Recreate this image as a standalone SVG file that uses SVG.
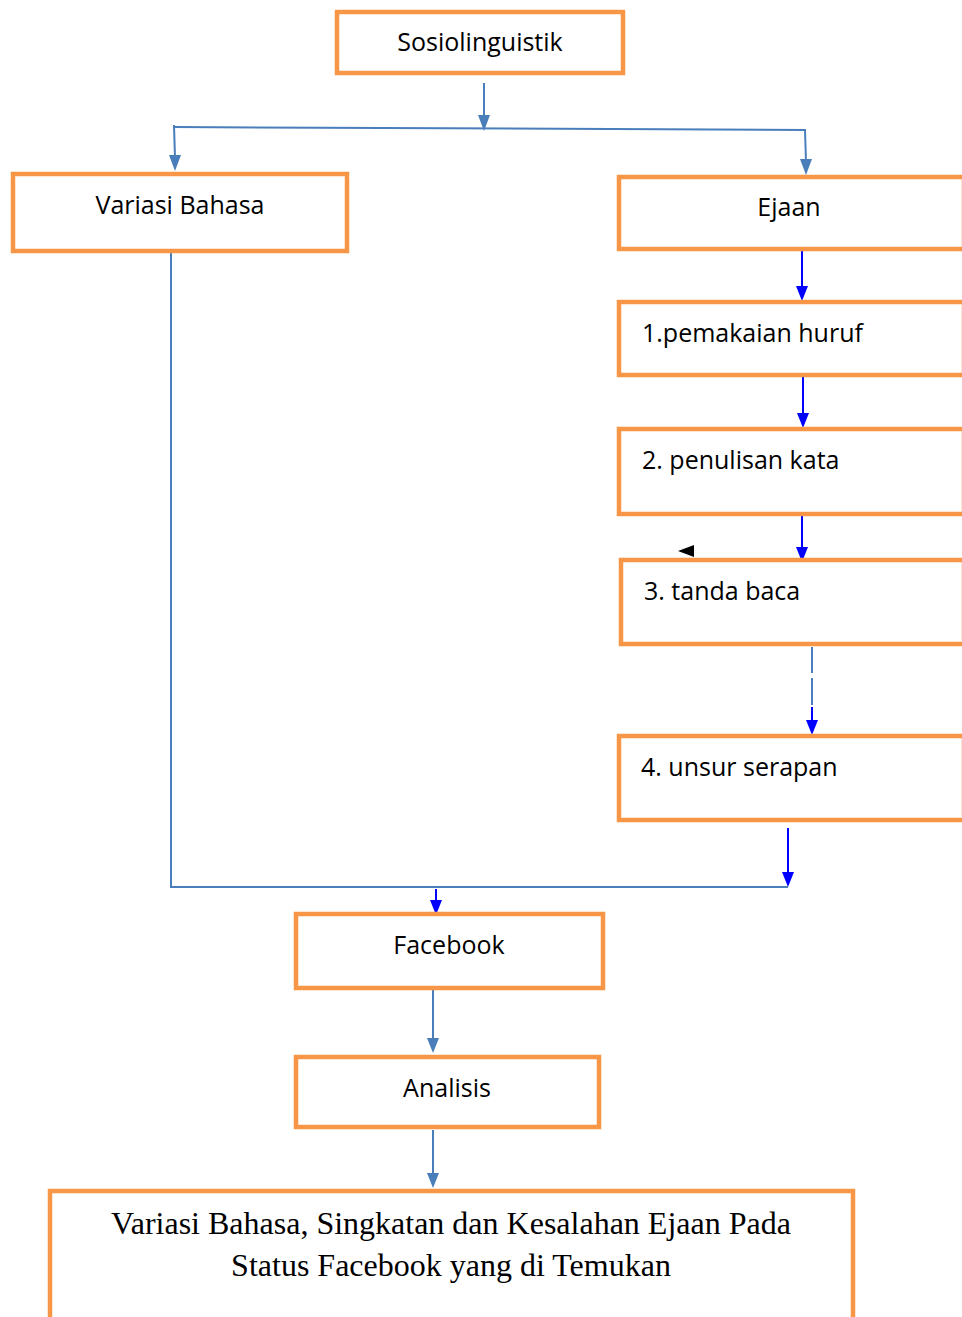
<svg xmlns="http://www.w3.org/2000/svg" width="962" height="1317" viewBox="0 0 962 1317">
<style>
.box{fill:#fff;stroke:#F79646;stroke-width:4.5}
.t{font-family:"Open Sans",Lato,sans-serif;font-size:25px;fill:#000}
.tr{font-family:"Liberation Serif",serif;font-size:32px;fill:#000}
.sb{stroke:#4A7EBB;stroke-width:2;fill:none}
.bl{stroke:#0000FF;stroke-width:2;fill:none}
</style>
<rect width="962" height="1317" fill="#fff"/>
<g id="connectors">
<path class="sb" d="M484,83 V120"/>
<path d="M478,115 L490,115 L484,131 Z" fill="#4A7EBB"/>
<path class="sb" d="M174,127 L806,130"/>
<path class="sb" d="M174,125 L175,158"/>
<path d="M169,155 L181,155 L175,171 Z" fill="#4A7EBB"/>
<path class="sb" d="M805,130 L806,162"/>
<path d="M800,159 L812,159 L806,175 Z" fill="#4A7EBB"/>
<path class="bl" d="M802,243 V290"/>
<path d="M796,286 L808,286 L802,301 Z" fill="#0000FF"/>
<path class="bl" d="M803,370 V418"/>
<path d="M797,413 L809,413 L803,428 Z" fill="#0000FF"/>
<path class="bl" d="M802,509 V552"/>
<path d="M796,547 L808,547 L802,562 Z" fill="#0000FF"/>
<path d="M694,545 L694,557 L678,551 Z" fill="#000"/>
<path class="sb" d="M812,647 V673 M812,678 V705"/>
<path class="bl" d="M812,707 V725"/>
<path d="M806,720 L818,720 L812,735 Z" fill="#0000FF"/>
<path class="bl" d="M788,828 V876"/>
<path d="M782,872 L794,872 L788,887 Z" fill="#0000FF"/>
<path class="sb" d="M171,251 V888"/>
<path class="sb" d="M172,887 H788"/>
<path class="bl" d="M436,889 V904"/>
<path d="M430,900 L442,900 L436,915 Z" fill="#0000FF"/>
<path class="sb" d="M433,990 V1043"/>
<path d="M427,1038 L439,1038 L433,1053 Z" fill="#4A7EBB"/>
<path class="sb" d="M433,1130 V1178"/>
<path d="M427,1173 L439,1173 L433,1188 Z" fill="#4A7EBB"/>
</g>
<g id="sosiolinguistik"><rect class="box" x="337" y="12" width="286" height="61"/><text class="t" x="480" y="51" text-anchor="middle">Sosiolinguistik</text></g>
<g id="variasi"><rect class="box" x="13" y="174" width="334" height="77"/><text class="t" x="180" y="214" text-anchor="middle">Variasi Bahasa</text></g>
<g id="ejaan"><rect class="box" x="619" y="177" width="345" height="72"/><text class="t" x="789" y="216" text-anchor="middle">Ejaan</text></g>
<g id="huruf"><rect class="box" x="619" y="302" width="345" height="73"/><text class="t" x="642" y="342">1.pemakaian huruf</text></g>
<g id="kata"><rect class="box" x="619" y="429" width="345" height="85"/><text class="t" x="642" y="469">2. penulisan kata</text></g>
<g id="tandabaca"><rect class="box" x="621" y="560" width="343" height="84"/><text class="t" x="644" y="600">3. tanda baca</text></g>
<g id="serapan"><rect class="box" x="619" y="736" width="345" height="84"/><text class="t" x="641" y="776">4. unsur serapan</text></g>
<g id="facebook"><rect class="box" x="296" y="914" width="307" height="74"/><text class="t" x="449" y="954" text-anchor="middle">Facebook</text></g>
<g id="analisis"><rect class="box" x="296" y="1057" width="303" height="70"/><text class="t" x="447" y="1097" text-anchor="middle">Analisis</text></g>
<g id="hasil"><rect class="box" x="50" y="1191" width="803" height="140"/><text class="tr" x="451" y="1234" text-anchor="middle">Variasi Bahasa, Singkatan dan Kesalahan Ejaan Pada</text><text class="tr" x="451" y="1276" text-anchor="middle">Status Facebook yang di Temukan</text></g>
</svg>
